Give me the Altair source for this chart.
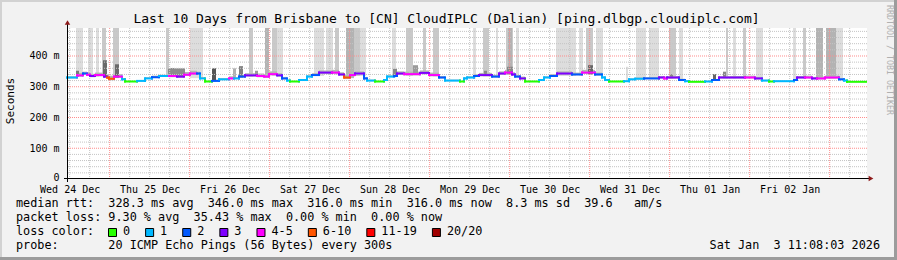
import json
import altair as alt
import pandas as pd

# ---------------- data ----------------
day_labels = ["Wed 24 Dec", "Thu 25 Dec", "Fri 26 Dec", "Sat 27 Dec", "Sun 28 Dec",
              "Mon 29 Dec", "Tue 30 Dec", "Wed 31 Dec", "Thu 01 Jan", "Fri 02 Jan"]
span_hours = 240          # last 10 days, x in hours since graph start
first_noon = 0.8          # Wed 24 Dec 12:00, hours after graph start
first_midnight = 12.8     # Thu 25 Dec 00:00
y_max = 491               # ms at top of plot
y_ticks = [0, 100, 200, 300, 400]

# median rtt: step segments (start hour, ms, loss class index)
med_start = [0.0, 3.0, 4.8, 6.0, 6.9, 8.4, 11.1, 12.0, 12.6, 14.1,
             16.5, 17.4, 21.0, 23.4, 25.5, 27.6, 30.6, 33.0, 35.1, 36.9,
             39.0, 39.9, 41.4, 43.5, 45.6, 48.6, 50.1, 51.6, 53.4, 57.0,
             59.1, 60.6, 63.0, 64.5, 66.0, 66.9, 69.6, 72.0, 73.5, 75.6,
             79.5, 81.6, 83.1, 84.9, 86.4, 89.1, 90.0, 92.4, 95.1, 96.0,
             98.1, 99.0, 101.1, 105.9, 108.6, 111.6, 113.4, 117.9, 119.1, 120.0,
             122.1, 123.6, 127.5, 129.6, 131.4, 133.5, 134.4, 135.9, 137.4, 141.6,
             143.1, 144.9, 147.0, 151.5, 154.5, 158.4, 160.5, 161.4, 162.6, 167.1,
             168.6, 170.4, 173.1, 177.6, 179.1, 180.0, 183.6, 185.4, 186.6, 191.4,
             193.5, 195.6, 203.4, 206.4, 208.5, 210.6, 212.1, 218.1, 219.0, 221.4,
             223.5, 225.0, 227.4, 231.6, 233.1, 234.0]
med_ms = [330, 337, 343, 339, 335, 338, 333, 330, 326, 333,
          324, 317, 319, 327, 331, 335, 335, 333, 339, 343,
          343, 327, 317, 319, 324, 327, 327, 333, 337, 335,
          333, 341, 337, 327, 320, 317, 322, 333, 338, 346,
          346, 340, 330, 338, 343, 327, 320, 317, 322, 333,
          335, 343, 341, 345, 338, 330, 320, 317, 327, 330,
          335, 338, 333, 343, 346, 340, 333, 327, 317, 322,
          330, 335, 343, 340, 346, 340, 330, 322, 317, 318,
          324, 326, 327, 330, 327, 330, 322, 318, 316, 317,
          322, 330, 330, 327, 320, 317, 318, 322, 330, 330,
          327, 327, 330, 324, 320, 316]
med_loss = [1, 4, 2, 4, 3, 4, 3, 5, 5, 4,
            1, 0, 1, 1, 2, 1, 4, 3, 4, 4,
            2, 1, 0, 2, 1, 4, 1, 2, 3, 4,
            4, 4, 3, 2, 1, 0, 1, 1, 2, 3,
            4, 3, 5, 4, 3, 2, 1, 0, 1, 1,
            2, 3, 4, 3, 4, 2, 1, 0, 1, 1,
            2, 3, 2, 3, 4, 3, 2, 3, 0, 1,
            1, 2, 3, 2, 4, 2, 1, 1, 0, 1,
            1, 1, 2, 3, 4, 3, 2, 1, 0, 1,
            2, 3, 4, 3, 1, 0, 1, 2, 3, 4,
            3, 4, 4, 2, 1, 0]
# smoke spread above / below the median (ms)
smoke_up = [4, 8, 6, 8, 7, 8, 7, 10, 10, 8,
            4, 2, 3, 4, 5, 4, 8, 7, 9, 9,
            6, 4, 2, 4, 4, 7, 4, 6, 7, 8,
            8, 9, 7, 5, 3, 2, 3, 4, 6, 7,
            9, 7, 10, 8, 7, 5, 3, 2, 3, 4,
            5, 7, 8, 8, 8, 5, 3, 2, 4, 4,
            6, 7, 6, 7, 9, 7, 5, 6, 2, 3,
            4, 6, 7, 6, 9, 6, 4, 3, 2, 2,
            3, 4, 4, 5, 6, 5, 4, 3, 2, 2,
            3, 5, 6, 5, 3, 2, 2, 3, 5, 6,
            5, 6, 6, 4, 3, 2]
smoke_dn = [3, 4, 3, 4, 4, 4, 4, 5, 5, 4,
            2, 1, 2, 2, 3, 3, 4, 4, 4, 4,
            3, 2, 1, 2, 2, 3, 2, 3, 4, 4,
            4, 4, 4, 3, 2, 1, 2, 2, 3, 4,
            4, 4, 5, 4, 4, 3, 2, 1, 2, 2,
            3, 4, 4, 4, 4, 3, 2, 1, 2, 2,
            3, 4, 3, 4, 4, 4, 3, 3, 1, 2,
            2, 3, 4, 3, 4, 3, 2, 2, 1, 1,
            2, 2, 2, 3, 3, 3, 2, 1, 1, 1,
            2, 3, 3, 3, 2, 1, 1, 2, 3, 3,
            3, 3, 3, 2, 2, 1]
line_end = 239.7

# tall smoke columns (pings far above the median): start h, end h, bottom ms, top ms, shade
tall_h0 = [2.7, 6.3, 8.7, 10.5, 13.8, 29.7, 36.9, 54.6, 59.4, 61.5, 63.0, 74.1, 77.7, 80.4, 83.7,
           86.1, 87.9, 97.5, 101.7, 106.8, 109.8, 121.8, 124.8, 128.7, 131.7, 132.3, 134.7, 146.7,
           153.6, 155.7, 158.7, 167.7, 170.7, 174.6, 180.6, 183.6, 197.7, 199.8, 202.8, 206.7,
           217.8, 220.8, 224.7, 227.7, 230.7]
tall_h1 = [4.8, 7.8, 9.6, 11.7, 15.6, 30.6, 40.8, 55.8, 60.6, 63.0, 64.8, 77.1, 79.8, 81.6, 86.1,
           87.9, 89.7, 98.7, 103.8, 107.7, 111.6, 122.7, 126.6, 129.3, 133.8, 133.5, 135.6, 152.7,
           154.8, 157.8, 160.8, 168.3, 173.7, 177.6, 182.7, 184.8, 198.3, 200.7, 203.7, 208.8,
           218.7, 221.7, 226.8, 230.7, 232.8]
tall_lo = [332, 335, 333, 335, 328, 332, 328, 333, 330, 336, 334, 335, 340, 340, 328,
           335, 335, 330, 336, 340, 334, 327, 334, 330, 340, 340, 330, 335,
           336, 340, 335, 318, 324, 324, 327, 322, 327, 327, 327, 324,
           320, 327, 325, 327, 327]
tall_hi = [491, 491, 491, 491, 491, 491, 491, 491, 491, 491, 491, 491, 491, 491, 491,
           491, 491, 491, 491, 491, 491, 491, 491, 491, 491, 491, 491, 491,
           491, 491, 491, 365, 491, 491, 491, 491, 491, 491, 491, 491,
           491, 491, 491, 491, 491]
tall_shade = ["L", "L", "L", "M", "M", "M", "L", "M", "D", "M", "L", "L", "L", "M", "D",
              "M", "L", "L", "M", "M", "M", "L", "M", "L", "M", "D", "L", "L",
              "L", "M", "L", "L", "L", "L", "M", "L", "M", "L", "M", "L",
              "L", "M", "D", "D", "L"]

# short dark smoke spikes
spike_h0 = [2.7, 10.8, 14.4, 30.3, 32.1, 43.5, 49.8, 51.6, 56.4, 97.8, 103.8, 125.1, 132.0,
            156.3, 193.8, 196.8, 180.9]
spike_h1 = [3.6, 12.0, 15.6, 32.1, 35.4, 44.7, 50.7, 52.8, 57.3, 99.0, 105.3, 126.0, 133.8,
            157.8, 194.7, 197.7, 181.8]
spike_lo = [333, 333, 330, 333, 333, 318, 326, 330, 335, 333, 340, 336, 340, 340, 320, 328, 328]
spike_hi = [352, 386, 373, 361, 360, 360, 360, 367, 352, 358, 370, 352, 365, 370, 341, 349, 341]
spike_gray = ["#7a7a7a", "#6a6a6a", "#6a6a6a", "#8c8c8c", "#8c8c8c", "#555555", "#b0b0b0",
              "#808080", "#999999", "#888888", "#999999", "#888888", "#888888", "#666666",
              "#666666", "#888888", "#888888"]

loss_labels = ["0", "1", "2", "3", "4-5", "6-10", "11-19", "20/20"]
loss_colors = ["#26ff00", "#00b8ff", "#0059ff", "#7e00ff", "#ff00ff", "#ff5500", "#ff0000", "#a00000"]

title_text = "Last 10 Days from Brisbane to [CN] CloudIPLC (Dalian) [ping.dlbgp.cloudiplc.com]"
stats_line1 = "median rtt:  328.3 ms avg  346.0 ms max  316.0 ms min  316.0 ms now  8.3 ms sd  39.6   am/s"
stats_line2 = "packet loss: 9.30 % avg  35.43 % max  0.00 % min  0.00 % now"
probe_line = "probe:       20 ICMP Echo Pings (56 Bytes) every 300s"
stamp_text = "Sat Jan  3 11:08:03 2026"
credit_text = "RRDTOOL / TOBI OETIKER"

# ---------------- layout / style ----------------
FONT = "DejaVu Sans Mono"
W, H = 800, 151
PL, PT = 67, 28
shade_map = {"L": "#dddddd", "M": "#c9c9c9", "D": "#b3b3b3"}
CH = 7.12  # legend character advance


def px(v):
    return v - PL


def py(v):
    return v - PT


def nb(s):
    return s.replace(" ", "\u00a0")


xs = alt.Scale(domain=[0, span_hours], nice=False, zero=False)
ys = alt.Scale(domain=[0, y_max], nice=False, zero=True)

label_hours = [first_noon + 24 * k for k in range(len(day_labels))]
x_label_expr = "%s[round((datum.value - %s) / 24)]" % (json.dumps(day_labels), first_noon)
XAX = alt.Axis(values=label_hours, labelExpr=x_label_expr, ticks=False, domain=False, grid=False,
               labelFont=FONT, labelFontSize=10, labelColor="#000000", labelPadding=5,
               labelFlush=False, labelOverlap=False, labelBound=False, title=None)
YAX = alt.Axis(values=y_ticks, labelExpr="datum.value == 0 ? '0' : datum.value + ' m'",
               ticks=False, domain=False, grid=False, labelFont=FONT, labelFontSize=10,
               labelColor="#000000", labelPadding=8, labelOverlap=False, labelFlush=False,
               labelBound=False, title=None,
               labelOffset={"condition": {"test": "datum.value == 0", "value": -2}, "value": 0})


def X(f):
    return alt.X(f, type="quantitative", scale=xs, axis=XAX)


def Y(f):
    return alt.Y(f, type="quantitative", scale=ys, axis=YAX)


ends = med_start[1:] + [line_end]
prev = [med_ms[0]] + med_ms[:-1]
seg = pd.DataFrame({
    "start": med_start, "end": ends, "ms": med_ms, "prev": prev,
    "lo": [m - d for m, d in zip(med_ms, smoke_dn)],
    "hi": [m + u for m, u in zip(med_ms, smoke_up)],
    "col": [loss_colors[i] for i in med_loss],
})
tall = pd.DataFrame({"h0": tall_h0, "h1": tall_h1, "lo": tall_lo, "hi": tall_hi,
                     "col": [shade_map[s] for s in tall_shade]})
spikes = pd.DataFrame({"h0": spike_h0, "h1": spike_h1, "lo": spike_lo, "hi": spike_hi,
                       "col": spike_gray})

ymin_grid = pd.DataFrame({"v": [v for v in range(20, 481, 20) if v % 100]})
ymaj_grid = pd.DataFrame({"v": y_ticks[1:]})
midnights = [first_midnight + 24 * k for k in range(10)]
minor_x = [first_noon + 6 * k for k in range(40)]
minor_x = [h for h in minor_x if h < span_hours and all(abs(h - m) > 0.01 for m in midnights)]
xmin_grid = pd.DataFrame({"v": minor_x})
xmaj_grid = pd.DataFrame({"v": midnights})

one = pd.DataFrame({"k": [0]})

layers = []

layers.append(alt.Chart(tall).mark_rect().encode(
    x=X("h0"), x2="h1:Q", y=Y("lo"), y2="hi:Q", color=alt.Color("col:N", scale=None)))

layers.append(alt.Chart(seg).mark_rect(color="#b4b4b4").encode(
    x=X("start"), x2="end:Q", y=Y("lo"), y2="hi:Q"))

layers.append(alt.Chart(spikes).mark_rect().encode(
    x=X("h0"), x2="h1:Q", y=Y("lo"), y2="hi:Q", color=alt.Color("col:N", scale=None)))

# grid
layers.append(alt.Chart(ymin_grid).mark_rule(color="#c4c4c4", strokeDash=[1, 1], strokeWidth=1).encode(
    y=Y("v")))
layers.append(alt.Chart(xmin_grid).mark_rule(color="#c4c4c4", strokeDash=[1, 1], strokeWidth=1).encode(
    x=X("v")))
layers.append(alt.Chart(ymaj_grid).mark_rule(color="#ff8c8c", strokeDash=[1, 1], strokeWidth=1).encode(
    y=Y("v")))
layers.append(alt.Chart(xmaj_grid).mark_rule(color="#ff8c8c", strokeDash=[1, 1], strokeWidth=1).encode(
    x=X("v")))

# median line coloured by loss
layers.append(alt.Chart(seg).mark_rule(strokeWidth=2, strokeCap="square").encode(
    x=X("start"), y=Y("prev"), y2="ms:Q", color=alt.Color("col:N", scale=None)))
layers.append(alt.Chart(seg).mark_rule(strokeWidth=2, strokeCap="square").encode(
    x=X("start"), x2="end:Q", y=Y("ms"), color=alt.Color("col:N", scale=None)))


def rule(x1, y1, x2, y2, color, width=1):
    return alt.Chart(one).mark_rule(color=color, strokeWidth=width).encode(
        x=alt.value(x1), y=alt.value(y1), x2=alt.value(x2), y2=alt.value(y2))


def text(s, x, y, size, align="left", color="#000000", angle=0, baseline="alphabetic"):
    return alt.Chart(one).mark_text(font=FONT, fontSize=size, align=align, color=color,
                                    angle=angle, baseline=baseline).encode(
        x=alt.value(x), y=alt.value(y), text=alt.value(nb(s)))


# axis lines and arrows
layers.append(rule(-3, 150.5, 805, 150.5, "#000000"))
layers.append(rule(0.5, 154, 0.5, -6, "#000000"))
layers.append(alt.Chart(one).mark_point(shape="triangle-right", filled=True, size=30,
                                        color="#8e1a1a", opacity=1).encode(
    x=alt.value(804), y=alt.value(150.5)))
layers.append(alt.Chart(one).mark_point(shape="triangle-up", filled=True, size=30,
                                        color="#8e1a1a", opacity=1).encode(
    x=alt.value(0.5), y=alt.value(-5.5)))

# frame
layers.append(rule(-67, -27, 830, -27, "#d2d2d2", 2))
layers.append(rule(-66, -28, -66, 232, "#d2d2d2", 2))
layers.append(rule(-67, 230.5, 830, 230.5, "#9c9c9c", 3))
layers.append(rule(828.5, -28, 828.5, 232, "#9c9c9c", 3))

# title, axis title, credit
layers.append(text(title_text, px(446.5), py(23.3), 13, align="center"))
layers.append(text("Seconds", px(11), py(101), 11, align="center", angle=270, baseline="middle"))
layers.append(text(credit_text, px(888.5), py(60), 8.3, align="center", color="#b0b0b0",
                   angle=90, baseline="middle"))

# legend text
LS = 11.8
layers.append(text(stats_line1, px(16), py(207.3), LS))
layers.append(text(stats_line2, px(16), py(221.3), LS))
layers.append(text("loss color:", px(16), py(235.3), LS))
layers.append(text(probe_line, px(16), py(249.3), LS))
layers.append(text(stamp_text, px(880), py(249.3), LS, align="right"))

bx = 108.0
for lab, col in zip(loss_labels, loss_colors):
    layers.append(alt.Chart(one).mark_rect(color=col, stroke="#000000", strokeWidth=1).encode(
        x=alt.value(px(bx) + 0.5), x2=alt.value(px(bx) + 8.5),
        y=alt.value(py(228.5)), y2=alt.value(py(236.5))))
    layers.append(text(lab, px(bx + 15), py(235.3), LS))
    bx = bx + 15 + len(lab) * CH + 15

chart = alt.layer(*layers).properties(
    width=W, height=H,
    padding={"left": PL, "top": PT, "right": 897 - PL - W, "bottom": 260 - PT - H},
    autosize=alt.AutoSizeParams(type="none"),
    background="#f2f2f2",
).configure_view(fill="#ffffff", strokeWidth=0)

chart.save("out.html", embed_options={"renderer": "svg", "actions": False})
